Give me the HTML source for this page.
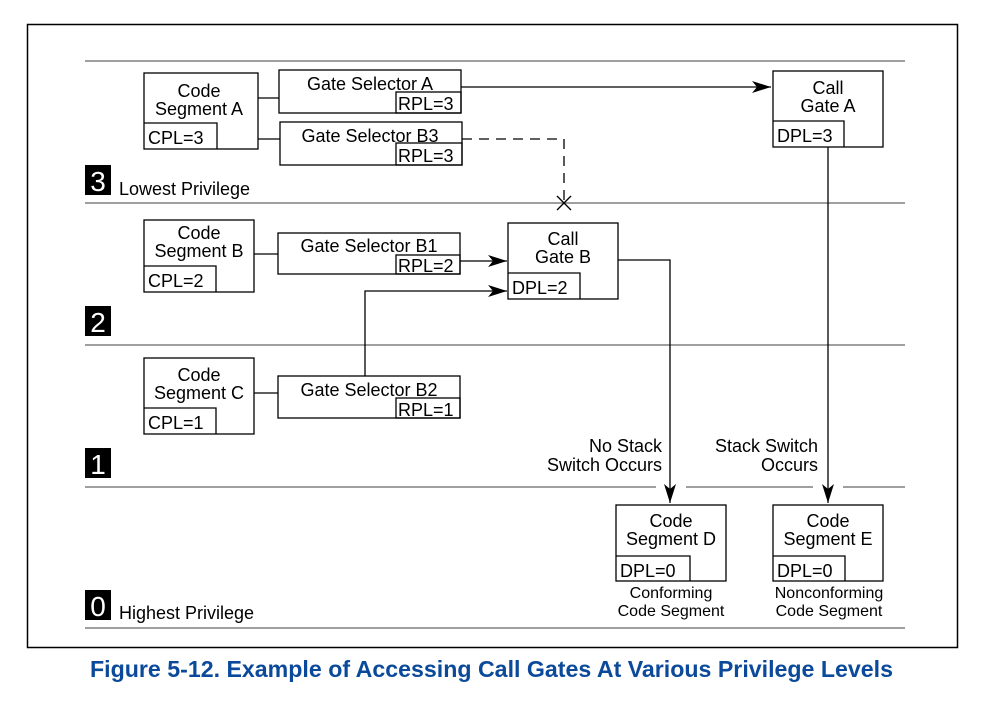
<!DOCTYPE html>
<html><head><meta charset="utf-8"><style>
html,body{margin:0;padding:0;background:#fff;}
svg{display:block;}
text{font-family:"Liberation Sans",Arial,sans-serif;fill:#000;}
</style></head><body>
<svg width="998" height="709" viewBox="0 0 998 709" xmlns="http://www.w3.org/2000/svg">
<defs>
<marker id="ah" markerWidth="20" markerHeight="12" refX="19" refY="6" orient="auto" markerUnits="userSpaceOnUse">
<path d="M0,0 L19,6 L0,12 L5,6 Z" fill="#000"/>
</marker>
</defs>
<rect x="27.5" y="24.5" width="930" height="623" fill="none" stroke="#000" stroke-width="1.5"/>
<g stroke="#666" stroke-width="1.3">
<line x1="85" y1="61" x2="905" y2="61"/>
<line x1="85" y1="203" x2="905" y2="203"/>
<line x1="85" y1="345" x2="905" y2="345"/>
<line x1="85" y1="487" x2="656" y2="487"/>
<line x1="686" y1="487" x2="813" y2="487"/>
<line x1="843" y1="487" x2="905" y2="487"/>
<line x1="85" y1="628" x2="905" y2="628"/>
</g>
<g fill="#000">
<rect x="85" y="165" width="26" height="30"/>
<rect x="85" y="306" width="26" height="30"/>
<rect x="85" y="448" width="26" height="30"/>
<rect x="85" y="590" width="26" height="30"/>
</g>
<g font-size="28" text-anchor="middle">
<text x="98" y="191" style="fill:#fff">3</text>
<text x="98" y="332" style="fill:#fff">2</text>
<text x="98" y="474" style="fill:#fff">1</text>
<text x="98" y="616" style="fill:#fff">0</text>
</g>
<text x="119" y="195" font-size="18">Lowest Privilege</text>
<text x="119" y="619" font-size="18">Highest Privilege</text>

<g fill="none" stroke="#000" stroke-width="1.3">
<rect x="144" y="73" width="114" height="76"/>
<polyline points="144,123 217,123 217,149"/>
<rect x="279" y="70" width="182" height="43"/>
<rect x="396" y="92" width="65" height="21"/>
<rect x="280" y="122" width="182" height="43"/>
<rect x="396" y="143" width="66" height="22"/>
<line x1="258" y1="98" x2="279" y2="98"/>
<line x1="258" y1="139" x2="280" y2="139"/>
<rect x="773" y="71" width="110" height="76"/>
<polyline points="773,121 844,121 844,147"/>
<line x1="461" y1="87" x2="771" y2="87" marker-end="url(#ah)"/>
<polyline points="462,139 564,139 564,203" stroke-dasharray="10,7"/>
<line x1="557" y1="196" x2="571" y2="210"/>
<line x1="571" y1="196" x2="557" y2="210"/>
<rect x="144" y="220" width="110" height="72"/>
<polyline points="144,266 216,266 216,292"/>
<rect x="278" y="233" width="182" height="41"/>
<rect x="396" y="255" width="64" height="19"/>
<line x1="254" y1="254" x2="278" y2="254"/>
<rect x="508" y="223" width="110" height="76"/>
<polyline points="508,273 580,273 580,299"/>
<line x1="460" y1="261" x2="507" y2="261" marker-end="url(#ah)"/>
<polyline points="365,376 365,291 507,291" marker-end="url(#ah)"/>
<rect x="144" y="358" width="110" height="76"/>
<polyline points="144,408 216,408 216,434"/>
<rect x="278" y="376" width="182" height="42"/>
<rect x="396" y="398" width="64" height="20"/>
<line x1="254" y1="393" x2="278" y2="393"/>
<polyline points="618,260 670,260 670,503" marker-end="url(#ah)"/>
<line x1="828" y1="147" x2="828" y2="503" marker-end="url(#ah)"/>
<rect x="616" y="505" width="110" height="76"/>
<polyline points="616,556 690,556 690,581"/>
<rect x="773" y="505" width="110" height="76"/>
<polyline points="773,556 845,556 845,581"/>
</g>

<g font-size="18" text-anchor="middle">
<text x="199" y="97">Code</text>
<text x="199" y="115">Segment A</text>
<text x="370" y="90">Gate Selector A</text>
<text x="370" y="142">Gate Selector B3</text>
<text x="828" y="94">Call</text>
<text x="828" y="112">Gate A</text>
<text x="199" y="239">Code</text>
<text x="199" y="257">Segment B</text>
<text x="369" y="252">Gate Selector B1</text>
<text x="563" y="245">Call</text>
<text x="563" y="263">Gate B</text>
<text x="199" y="381">Code</text>
<text x="199" y="399">Segment C</text>
<text x="369" y="396">Gate Selector B2</text>
<text x="671" y="527">Code</text>
<text x="671" y="545">Segment D</text>
<text x="828" y="527">Code</text>
<text x="828" y="545">Segment E</text>
</g>
<g font-size="18">
<text x="148" y="144">CPL=3</text>
<text x="398" y="110">RPL=3</text>
<text x="398" y="162">RPL=3</text>
<text x="777" y="142">DPL=3</text>
<text x="148" y="287">CPL=2</text>
<text x="398" y="272">RPL=2</text>
<text x="512" y="294">DPL=2</text>
<text x="148" y="429">CPL=1</text>
<text x="398" y="416">RPL=1</text>
<text x="620" y="577">DPL=0</text>
<text x="777" y="577">DPL=0</text>
</g>
<g font-size="18" text-anchor="end">
<text x="662" y="452">No Stack</text>
<text x="662" y="471">Switch Occurs</text>
<text x="818" y="452">Stack Switch</text>
<text x="818" y="471">Occurs</text>
</g>
<g font-size="16" text-anchor="middle">
<text x="671" y="598">Conforming</text>
<text x="671" y="616">Code Segment</text>
<text x="829" y="598">Nonconforming</text>
<text x="829" y="616">Code Segment</text>
</g>
<text x="90" y="677" font-size="23" font-weight="bold" textLength="803" lengthAdjust="spacingAndGlyphs" style="fill:#0b4a9a">Figure 5-12.  Example of Accessing Call Gates At Various Privilege Levels</text>
</svg>
</body></html>
